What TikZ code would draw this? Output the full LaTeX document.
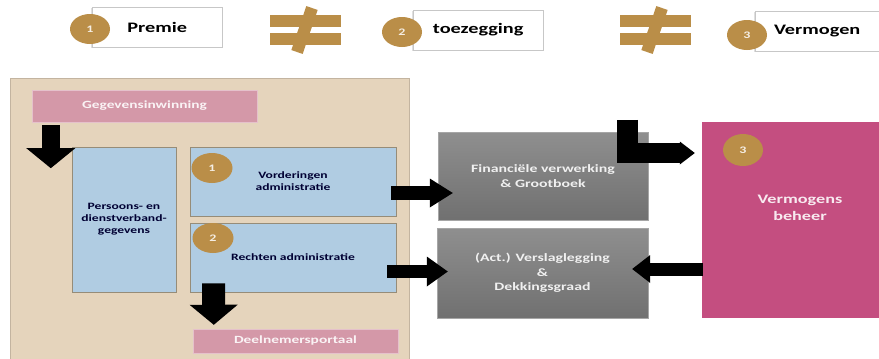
\documentclass[tikz,border=0pt]{standalone}
\usepackage{fontspec}
\setmainfont{Carlito}[FakeStretch=1.4]
\usetikzlibrary{arrows.meta,calc,shapes.geometric,shadows}
\definecolor{gold}{RGB}{186,142,72}
\definecolor{sand}{RGB}{229,212,188}
\definecolor{rose}{RGB}{212,152,168}
\definecolor{sky}{RGB}{176,204,226}
\definecolor{plum}{RGB}{196,78,128}
\definecolor{rim}{RGB}{150,140,120}

\begin{document}
\begin{tikzpicture}[
  x=1pt,y=-1pt,
  every node/.style={align=center,inner sep=0pt},
  tag/.style={fill=white,draw=black!22,anchor=west,minimum height=40pt,
    drop shadow={shadow xshift=-1.2pt,shadow yshift=-1.2pt,opacity=.25},
    font=\bfseries\fontsize{14.5}{16}\selectfont},
  num/.style={ellipse,fill=gold,minimum width=40pt,minimum height=30pt,
    text=gold!15!white,font=\bfseries\fontsize{10}{10}\selectfont},
  pinkbox/.style={fill=rose,draw=rose!60!white,text=rose!12!white,
    font=\bfseries\fontsize{11}{13}\selectfont},
  bluebox/.style={fill=sky,draw=rim,thick,text=black!80!blue,
    font=\bfseries\fontsize{9.7}{12}\selectfont},
  greybox/.style={top color=black!44,bottom color=black!56,draw=black!35,
    text=black!6,font=\bfseries\fontsize{11.3}{14.5}\selectfont},
  fat/.style args={#1/#2/#3}{line width=#1pt,
    -{Triangle[length=#2pt,width=#3pt,line width=0pt]}}
]
\useasboundingbox (0,0) rectangle (879,359);
\foreach \n/\bx/\by/\bw/\cx/\cy/\t in {1/92/27/130/90/29/Premie,
    2/413/30/130/402/32/toezegging,3/755/31/124/747/35/Vermogen} {
  \node[tag,minimum width=\bw pt] (t\n) at (\bx,\by) {\t};
  \node[num] (c\n) at (\cx,\cy) {\n};
}
\foreach \x in {270,620} {
  \fill[gold] (\x,15) rectangle +(71,12);
  \fill[gold] (\x,33) rectangle +(71,12);
  \draw[gold,line width=12pt] (\x+42,8) -- (\x+27,52);
}
\node[fill=sand,draw=sand!85!black,minimum width=399pt,minimum height=290pt,
  anchor=north west] (panel) at (10,78) {};
\node[pinkbox,minimum width=225pt,minimum height=32pt] (gegev) at (144.5,106) {Gegevensinwinning};
\node[bluebox,minimum width=104pt,minimum height=145pt] (pers) at (124,219.5)
  {\fontsize{9.7}{13}\selectfont Persoons- en\\dienstverband-\\gegevens};
\node[bluebox,minimum width=206pt,minimum height=69pt] (vord) at (293,181.5) {Vorderingen\\administratie};
\node[bluebox,minimum width=206pt,minimum height=69pt] (recht) at (293,257.5) {Rechten administratie};
\node[pinkbox,minimum width=205pt,minimum height=24pt] (deeln) at (295.5,341) {Deelnemersportaal};
\node[num,minimum width=41pt] (c4) at (212,168) {1};
\node[num,minimum width=41pt] (c5) at (213,238) {2};
\node[greybox,minimum width=210pt,minimum height=88pt] (fin) at (543,176)
  {Financiële verwerking\\\& Grootboek};
\node[greybox,minimum width=211pt,minimum height=90pt] (versl) at (542.5,273)
  {(Act.) Verslaglegging\\\&\\Dekkingsgraad};
\node[fill=plum,minimum width=196pt,minimum height=196pt] (verm) at (800,220) {};
\node[text=plum!12!white,font=\bfseries\fontsize{13}{17}\selectfont] (vtxt) at (800,208) {Vermogens\\beheer};
\node[num,minimum height=32pt] (c6) at (743,150) {3};
\coordinate (g1) at ($(gegev.south west)+(19,3)$);
\coordinate (g2) at ($(g1)+(0,43)$);
\draw[fat=18/20/49] (g1) -- (g2);
\draw[fat=23/20/48] ($(recht.south west)+(24,-9)$) -- ($(deeln.north west)+(21,-4)$);
\draw[fat=14/23/29] ($(vord.east)+(-5,11.5)$) -- ($(fin.west)+(15,17)$);
\draw[fat=13/21/30] ($(recht.east)+(-9,14)$) -- ($(versl.west)+(11,-1.5)$);
\draw[fat=13/18/28] ($(verm.west)+(1,49)$) -- ($(versl.east)+(-16,-4)$);
\draw[fat=20.5/15/23] ($(fin.north east)+(-20.5,-12)$) |- ($(verm.west)+(-7,-67)$);
\end{tikzpicture}
\end{document}
